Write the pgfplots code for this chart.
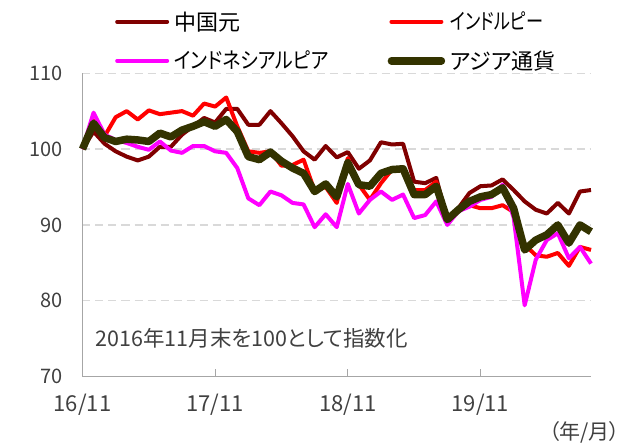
\documentclass[border=0pt]{standalone}
\usepackage{pgfplots}
\usepackage{pgfplotstable}
\pgfplotsset{compat=1.18}
\usepackage{fontspec}
\setmainfont{Noto Sans CJK JP}[RawFeature=+palt]
\definecolor{cyuan}{HTML}{800000}
\definecolor{cinr}{HTML}{FF0000}
\definecolor{cidr}{HTML}{FF00FF}
\definecolor{casia}{HTML}{333300}
\definecolor{cgrid}{HTML}{D9D9D9}
\definecolor{caxis}{HTML}{A6A6A6}
\definecolor{ctext}{HTML}{404040}
\pgfplotstableread{
i yuan inr idr asia
0 100 100 100 100
1 102.3 103.8 104.8 103.4
2 100.7 101.7 101.9 101.5
3 99.7 104.2 101.2 101.0
4 99.0 105.0 100.8 101.3
5 98.5 103.9 100.3 101.2
6 99.0 105.1 99.9 101.0
7 100.3 104.6 101.0 102.1
8 100.3 104.8 99.8 101.6
9 101.9 105.0 99.5 102.5
10 103.0 104.4 100.4 103.0
11 104.1 106.0 100.4 103.6
12 103.5 105.6 99.7 103.0
13 105.3 106.8 99.5 103.9
14 105.3 103.0 97.5 102.3
15 103.2 99.7 93.5 99.0
16 103.2 99.5 92.6 98.6
17 105.0 99.7 94.4 99.6
18 103.4 97.8 93.9 98.4
19 101.7 97.9 92.9 97.5
20 99.7 98.6 92.7 96.8
21 98.6 94.5 89.7 94.4
22 100.4 95.0 91.4 95.4
23 98.9 92.9 89.7 93.7
24 99.6 98.8 95.4 98.2
25 97.4 95.3 91.5 95.3
26 98.5 93.3 93.3 95.1
27 100.9 95.5 94.4 96.8
28 100.6 97.3 93.3 97.3
29 100.7 97.3 94.0 97.4
30 95.7 94.6 90.9 94.0
31 95.5 94.6 91.3 94.0
32 96.2 95.7 93.1 95.1
33 90.7 90.4 90.0 90.7
34 92.2 92.2 91.8 92.0
35 94.2 92.6 92.4 93.1
36 95.1 92.2 93.3 93.7
37 95.2 92.2 93.7 94.0
38 96.0 92.6 95.3 94.9
39 94.6 91.7 91.0 92.2
40 93.1 87.4 79.4 86.7
41 92.0 86.0 85.4 88.0
42 91.5 85.8 88.0 88.7
43 92.9 86.3 88.9 90.0
44 91.5 84.6 85.6 87.6
45 94.4 87.1 87.1 90.0
46 94.6 86.7 84.9 89.1
}\data
\begin{document}
\begin{tikzpicture}
\path[use as bounding box] (-82.5pt,-69pt) rectangle (551.5pt,376.6pt);
\begin{axis}[
  at={(0pt,0pt)}, anchor=south west,
  scale only axis, width=508.5pt, height=303.4pt,
  xmin=0, xmax=46, ymin=70, ymax=110,
  axis x line*=bottom, axis y line*=left,
  axis line style={caxis, line width=1.2pt, -},
  xtick={0,12,24,36}, xticklabels={16/11,17/11,18/11,19/11},
  ytick={70,80,90,100,110},
  xtick align=inside, major tick length=8pt,
  xtick style={caxis, line width=1.2pt},
  ytick style={draw=none},
  ymajorgrids, grid style={cgrid, line width=1.2pt, dash pattern=on 8pt off 5pt},
  yticklabel style={font=\fontsize{20}{24}\selectfont, text=ctext, xshift=-16pt},
  xticklabel style={font=\fontsize{22}{26}\selectfont, text=ctext, yshift=-14pt},
  /pgf/number format/assume math mode=true,
  clip=false,
  legend columns=2,
  legend cell align=left,
  legend style={draw=none, fill=none, at={(axis description cs:0.058,1.213)}, anchor=north west,
    font=\fontsize{22}{26}\selectfont, text=black, row sep=17pt,
    /tikz/every even column/.append style={column sep=58pt},
    nodes={inner sep=1pt}},
  legend image code/.code={\draw[#1, line cap=round] (0pt,0pt) -- (50pt,0pt);},
  line join=round,
]
\addplot[cyuan, line width=4pt] table[x=i, y=yuan] {\data};
\addlegendentry{\hspace{4pt}中国元}
\addplot[cinr, line width=4pt] table[x=i, y=inr] {\data};
\addlegendentry{\hspace{4pt}\scalebox{0.78}[1]{インドルピー}}
\addplot[cidr, line width=4pt] table[x=i, y=idr] {\data};
\addlegendentry{\hspace{4pt}\scalebox{0.86}[1]{インドネシアルピア}}
\addplot[casia, line width=7.5pt] table[x=i, y=asia] {\data};
\addlegendentry{\hspace{4pt}アジア通貨}
\node[anchor=west, text=ctext, font=\fontsize{21.5}{25}\selectfont] at (axis cs:0.85,75.1) {2016年11月末を100として指数化};
\node[anchor=east, text=ctext, font=\fontsize{21}{25}\selectfont] at (axis description cs:1.064,-0.185) {（年/月）};
\end{axis}
\end{tikzpicture}
\end{document}
